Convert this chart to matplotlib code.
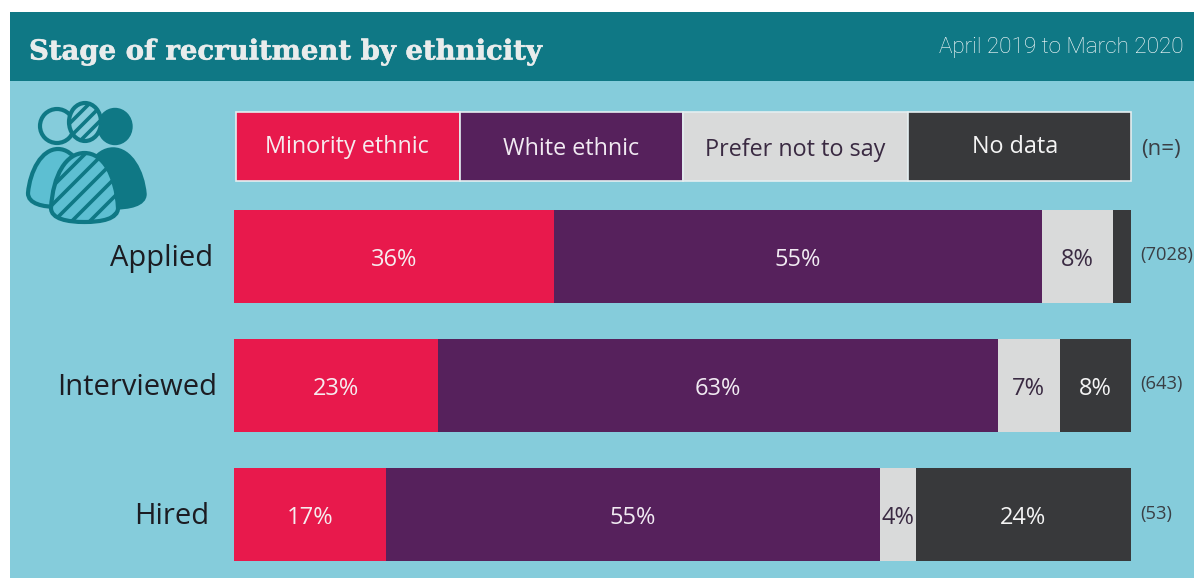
import matplotlib
matplotlib.use("Agg")
import matplotlib.pyplot as plt
import matplotlib.patheffects as pe
from matplotlib.patches import Rectangle, Ellipse, PathPatch
from matplotlib.path import Path
from matplotlib.transforms import ScaledTranslation
import numpy as np

W, H = 1194, 578
DPI = 100

# Recruitment figures
stages = ["Applied", "Interviewed", "Hired"]
groups = ["Minority ethnic", "White ethnic", "Prefer not to say", "No data"]
minority = [36, 23, 17]
white = [55, 63, 55]
prefer_not = [8, 7, 4]
no_data = [2, 8, 24]
counts = ["(7028)", "(643)", "(53)"]

title = "Stage of recruitment by ethnicity"
period = "April 2019 to March 2020"

# Palette
PANEL = "#85CCDB"
HEADER = "#0F7885"
LIGHT = "#5DBFD2"
COLORS = ["#E8194C", "#56215C", "#D9DADA", "#38393B"]
TEXT_COLORS = ["#F6ECEF", "#F1EAF2", "#3A2A42", "#F4F4F4"]
INK = "#3A3F45"
BODY = "Open Sans"

fig = plt.figure(figsize=(W / DPI, H / DPI), dpi=DPI, facecolor="white")

# Background layer addressed in pixels, origin at the top left
bg = fig.add_axes([0, 0, 1, 1])
bg.set_xlim(0, W)
bg.set_ylim(H, 0)
bg.axis("off")
bg.add_patch(Rectangle((10, 12), W - 10, H - 12, fc=PANEL, ec="none"))
bg.add_patch(Rectangle((10, 12), W - 10, 69, fc=HEADER, ec="none"))
bg.text(29, 52, title, family="DejaVu Serif", weight="bold", fontsize=19.8,
        color="#E9ECEC", va="center", ha="left",
        path_effects=[pe.withStroke(linewidth=0.4, foreground="#E9ECEC")])
bg.text(1184, 48, period, family="Roboto", weight="light", fontsize=16.2,
        color="#FFFFFF", va="center", ha="right")


def body_path(x0, x1, top, bottom):
    """Rounded torso outline between two x limits."""
    xm = (x0 + x1) / 2
    half = (x1 - x0) / 2
    verts = [(x0, bottom - 14), (x0 + 2, top + 22), (xm - half * 0.55, top), (xm, top),
             (xm + half * 0.55, top), (x1 - 2, top + 22), (x1, bottom - 14),
             (x1, bottom - 3), (xm + half * 0.5, bottom), (xm, bottom),
             (xm - half * 0.5, bottom), (x0, bottom - 3), (x0, bottom - 14),
             (x0, bottom - 14)]
    codes = [Path.MOVETO] + [Path.CURVE4] * 12 + [Path.CLOSEPOLY]
    return Path(verts, codes)


def stripes(clip, x0, x1, y0, y1, step, lw):
    """Diagonal stripes clipped to a patch."""
    for c in np.arange(x0 + y0, x1 + y1, step):
        line, = bg.plot([c - y1, c - y0], [y1, y0], color=HEADER, lw=lw,
                        solid_capstyle="butt", zorder=5)
        line.set_clip_path(clip)


# People icon: three heads and three torsos
bg.add_patch(PathPatch(body_path(81, 145, 149, 208), fc=HEADER, ec=HEADER, lw=2.5, zorder=2))
bg.add_patch(PathPatch(body_path(28, 88, 149, 207), fc=LIGHT, ec=HEADER, lw=3, zorder=3))
torso = PathPatch(body_path(51, 118, 153, 222), fc=LIGHT, ec="none", zorder=4)
bg.add_patch(torso)
stripes(torso, 40, 125, 145, 225, 18, 2.6)
bg.add_patch(PathPatch(body_path(51, 118, 153, 222), fc="none", ec=HEADER, lw=3, zorder=6))
bg.add_patch(Ellipse((115, 126.5), 34, 36, fc=HEADER, ec=HEADER, zorder=2))
bg.add_patch(Ellipse((57, 126), 34, 34, fc=PANEL, ec=HEADER, lw=3, zorder=3))
head = Ellipse((85, 122), 32, 38, fc=PANEL, ec="none", zorder=4)
bg.add_patch(head)
stripes(head, 65, 105, 100, 145, 14, 2.6)
bg.add_patch(Ellipse((85, 122), 32, 38, fc="none", ec=HEADER, lw=3, zorder=6))

# Legend row of four labelled cells
legend_edges = [236, 460, 683, 908, 1131]
legend_y = [147, 149, 150, 147]
legend_x = [347, 571, 795, 1015]
for i, name in enumerate(groups):
    left, right = legend_edges[i], legend_edges[i + 1]
    bg.add_patch(Rectangle((left, 112), right - left, 69, fc=COLORS[i],
                           ec="#E4EEF0", lw=1.2, zorder=2))
    bg.text(legend_x[i], legend_y[i], name, family=BODY, fontsize=16.8,
            color=TEXT_COLORS[i], ha="center", va="center", zorder=3)
bg.text(1141, 150, "(n=)", family=BODY, fontsize=16, color=INK,
        ha="left", va="center")

# Stacked bars, each row scaled to its own total
ax = fig.add_axes([234 / W, 1 - 561 / H, 897 / W, 351 / H])
ax.patch.set_alpha(0)
series = np.array([minority, white, prefer_not, no_data], dtype=float)
shares = series / series.sum(axis=0)
ypos = np.arange(len(stages))
left = np.zeros(len(stages))
for i, name in enumerate(groups):
    ax.barh(ypos, shares[i], left=left, height=93 / 129, color=COLORS[i], label=name)
    for j in ypos:
        if series[i][j] >= 4:
            ax.text(left[j] + shares[i][j] / 2, j + 0.03, f"{series[i][j]:.0f}%",
                    family=BODY, fontsize=17, color=TEXT_COLORS[i],
                    ha="center", va="center")
    left += shares[i]
ax.set_xlim(0, 1)
ax.set_ylim(2 + 0.36, -0.36)
ax.set_xticks([])
ax.set_yticks(ypos, stages, family=BODY, fontsize=21, color="#1C1C22")
ax.tick_params(axis="y", length=0, pad=0)
for side in ax.spines.values():
    side.set_visible(False)

# Stage names sit at slightly different distances from the bars
label_shift = [-21, -17, -25]
for lab, dx in zip(ax.get_yticklabels(), label_shift):
    lab.set_transform(lab.get_transform() + ScaledTranslation(dx / DPI, 1.5 / DPI, fig.dpi_scale_trans))

# Sample sizes to the right of each bar
n_shift = [1, 2, 1]
for j, txt in enumerate(counts):
    ax.annotate(txt, xy=(1, j), xytext=(9, n_shift[j]), xycoords="data",
                textcoords="offset pixels", family=BODY, weight="medium", fontsize=13.2,
                color=INK, ha="left", va="center", annotation_clip=False)

fig.savefig("out.png", dpi=DPI)
